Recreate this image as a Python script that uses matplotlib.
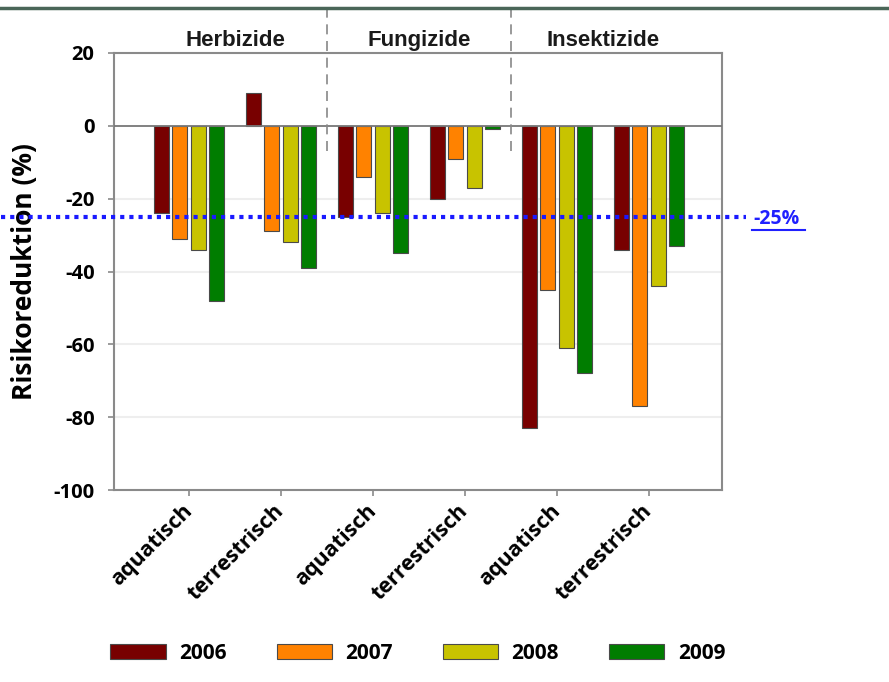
import numpy as np
import matplotlib
matplotlib.use('Agg')
import matplotlib.pyplot as plt
import matplotlib.transforms as mtransforms
from matplotlib.lines import Line2D

# Daten
kategorien = ['aquatisch', 'terrestrisch', 'aquatisch', 'terrestrisch', 'aquatisch', 'terrestrisch']
gruppen = ['Herbizide', 'Fungizide', 'Insektizide']
jahre = ['2006', '2007', '2008', '2009']
werte_2006 = [-24, 9, -25, -20, -83, -34]
werte_2007 = [-31, -29, -14, -9, -45, -77]
werte_2008 = [-34, -32, -24, -17, -61, -44]
werte_2009 = [-48, -39, -35, -1, -68, -33]
ziel = -25

farben = ['#780000', '#ff8200', '#c8c300', '#007d00']
serien = [werte_2006, werte_2007, werte_2008, werte_2009]

fig = plt.figure(figsize=(8.89, 6.82), dpi=100)
ax = fig.add_axes([0.1282, 0.2815, 0.6845, 0.6408])

x = np.arange(len(kategorien))
breite = 0.165
schritt = 0.2
for i, (werte, farbe, jahr) in enumerate(zip(serien, farben, jahre)):
    ax.bar(x + (i - 1.5) * schritt, werte, breite, color=farbe,
           edgecolor='#4a4a4a', linewidth=0.8, label=jahr, zorder=3)

ax.set_xlim(-0.815, 5.80)
ax.set_ylim(-100, 20)
ax.set_yticks(range(-100, 21, 20))
ax.set_xticks(x)

# Gitter und Nulllinie
for y in [-20, -40, -60, -80]:
    ax.axhline(y, color='#eeeeee', lw=1.5, zorder=1)
ax.axhline(0, color='#777777', lw=1.3, zorder=4)

for s in ax.spines.values():
    s.set_color('#8a8a8a')
    s.set_linewidth(1.5)

fs = ['Open Sans', 'DejaVu Sans']
ax.set_yticklabels([str(v) for v in range(-100, 21, 20)], family=fs,
                   fontweight='bold', fontsize=14.5)
ax.set_xticklabels(kategorien, family=fs, fontweight='bold', fontsize=15.5,
                   rotation=45, ha='right', va='center', rotation_mode='anchor')
ax.tick_params(axis='both', color='#8a8a8a', length=4, width=1.2)
ax.tick_params(axis='y', pad=10)
ax.tick_params(axis='x', pad=9)
ax.set_ylabel('Risikoreduktion (%)', family=fs, fontweight='bold',
              fontsize=19, labelpad=11)

# Trennlinien zwischen Gruppen
for xs in [1.5, 3.5]:
    ax.plot([xs, xs], [-7, 32.4], color='#888888', lw=1.2,
            ls=(0, (6, 4)), clip_on=False, zorder=5)

# Gruppentitel
for k, g in enumerate(gruppen):
    ax.text(0.5 + 2 * k, 21.9, g, ha='center', va='baseline',
            family=['Liberation Sans', 'DejaVu Sans'], fontweight='bold',
            fontsize=16, color='#1a1a1a')

# Ziel -25 %
trans = mtransforms.blended_transform_factory(ax.transAxes, ax.transData)
ax.plot([-0.186, 1.038], [ziel, ziel], transform=trans, color='#1a1aff',
        lw=3, ls=(0, (1, 1.2)), clip_on=False, zorder=6)
ax.text(1.050, ziel - 0.6, '-25%', transform=trans, color='#2020ff',
        fontweight='bold', fontsize=14, family=fs, va='center', ha='left')
fig.add_artist(Line2D([752 / 889, 805 / 889], [1 - 230 / 682, 1 - 230 / 682],
                      color='#2020ff', lw=1.5))

# obere Linie
fig.add_artist(Line2D([0, 1], [1 - 8 / 682, 1 - 8 / 682], color='#4a6658', lw=2.5))

leg = fig.legend(loc='center', bbox_to_anchor=(0.470, 0.0425), ncol=4,
                 frameon=False, handlelength=2.65, handleheight=0.7,
                 handletextpad=0.65, columnspacing=2.4,
                 prop={'family': fs, 'weight': 'bold', 'size': 15})

fig.savefig('out.png', dpi=100)
